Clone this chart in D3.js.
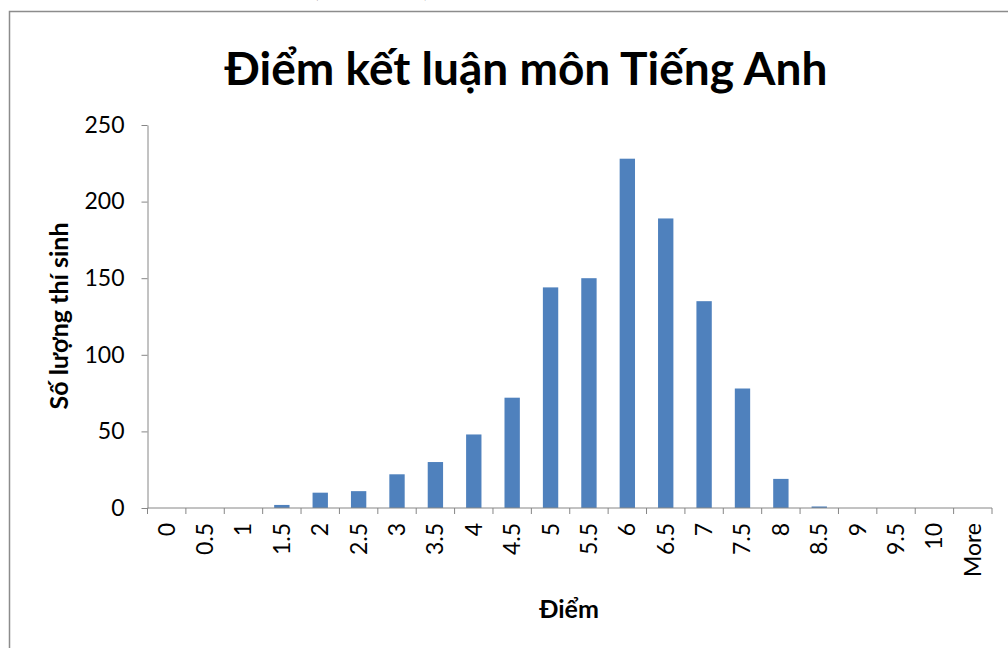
<!DOCTYPE html>
<html>
<head>
<meta charset="utf-8">
<script src="https://cdn.jsdelivr.net/npm/d3@7"></script>
<style>
  body { margin: 0; background: #fff; }
  svg { display: block; }
</style>
</head>
<body>
<div id="chart"></div>
<script>
// bins of the histogram and student counts
var categories = ["0", "0.5", "1", "1.5", "2", "2.5", "3", "3.5", "4", "4.5", "5", "5.5",
  "6", "6.5", "7", "7.5", "8", "8.5", "9", "9.5", "10", "More"];
var counts = [0, 0, 0, 2, 10, 11, 22, 30, 48, 72, 144, 150, 228, 189, 135, 78, 19, 1, 0, 0, 0, 0];
var yTicks = [0, 50, 100, 150, 200, 250];

var titleText = "Điểm kết luận môn Tiếng Anh";
var yLabel = "Số lượng thí sinh";
var xLabel = "Điểm";
var captionText = "Biểu đồ 5: Phổ điểm kết luận (Tiếng Anh)";

var W = 1008, H = 648;
var margin = { top: 125, left: 147.5, right: 16, bottom: 140 };
var width = W - margin.left - margin.right;
var height = 508 - margin.top;
var font = "Lato, 'Open Sans', sans-serif";

var svg = d3.select("#chart").append("svg")
  .attr("width", W)
  .attr("height", H);

// caption above the chart, mostly cut off by the page edge
svg.append("text")
  .attr("x", 2)
  .attr("y", -5)
  .style("font-family", "'Liberation Serif', serif")
  .style("font-style", "italic")
  .style("font-size", "26px")
  .text(captionText);

// chart frame
svg.append("rect")
  .attr("x", 9.5)
  .attr("y", 11.5)
  .attr("width", W + 20)
  .attr("height", H + 20)
  .attr("fill", "none")
  .attr("stroke", "#8c8c8c")
  .attr("stroke-width", 1.5);

svg.append("text")
  .attr("x", 526)
  .attr("y", 85)
  .attr("text-anchor", "middle")
  .style("font-family", font)
  .style("font-weight", "bold")
  .style("font-size", "46px")
  .text(titleText);

var chart = svg.append("g")
  .attr("transform", "translate(" + margin.left + "," + margin.top + ")");

var x = d3.scaleBand().domain(categories).range([0, width]).paddingInner(0).paddingOuter(0);
var y = d3.scaleLinear().domain([0, 250]).range([height, 0]);

var barW = x.bandwidth() * 0.4;
chart.selectAll(".bar")
  .data(counts)
  .enter()
  .append("rect")
  .attr("class", "bar")
  .attr("x", function (d, i) { return x(categories[i]) + (x.bandwidth() - barW) / 2; })
  .attr("y", function (d) { return y(d); })
  .attr("width", barW)
  .attr("height", function (d) { return height - y(d); })
  .style("fill", "#4f81bd");

// y axis
var yAxis = chart.append("g")
  .call(d3.axisLeft(y).tickValues(yTicks).tickSize(6).tickPadding(17).tickSizeOuter(0));
yAxis.select(".domain").attr("stroke", "#868686");
yAxis.selectAll(".tick line").attr("stroke", "#868686");
yAxis.selectAll(".tick text")
  .style("font-family", font)
  .style("font-size", "23px")
  .attr("fill", "#000");

// x axis: ticks on band edges
var xAxisG = chart.append("g")
  .attr("transform", "translate(0," + height + ")");
xAxisG.append("line")
  .attr("x1", 0).attr("x2", width)
  .attr("stroke", "#868686");
xAxisG.selectAll(".edge")
  .data(categories.concat(["end"]))
  .enter()
  .append("line")
  .attr("class", "edge")
  .attr("x1", function (d, i) { return i < categories.length ? x(d) : width; })
  .attr("x2", function (d, i) { return i < categories.length ? x(d) : width; })
  .attr("y1", 0).attr("y2", 6)
  .attr("stroke", "#868686");
xAxisG.selectAll(".lbl")
  .data(categories)
  .enter()
  .append("text")
  .attr("class", "lbl")
  .attr("transform", function (d) {
    return "translate(" + (x(d) + x.bandwidth() / 2 + 8) + ",15) rotate(-90)";
  })
  .attr("text-anchor", "end")
  .style("font-family", font)
  .style("font-size", "23px")
  .text(function (d) { return d; });

svg.append("text")
  .attr("transform", "translate(68,316) rotate(-90)")
  .attr("text-anchor", "middle")
  .style("font-family", font)
  .style("font-weight", "bold")
  .style("font-size", "25px")
  .text(yLabel);

svg.append("text")
  .attr("x", 569)
  .attr("y", 618)
  .attr("text-anchor", "middle")
  .style("font-family", font)
  .style("font-weight", "bold")
  .style("font-size", "25px")
  .text(xLabel);
</script>
</body>
</html>
